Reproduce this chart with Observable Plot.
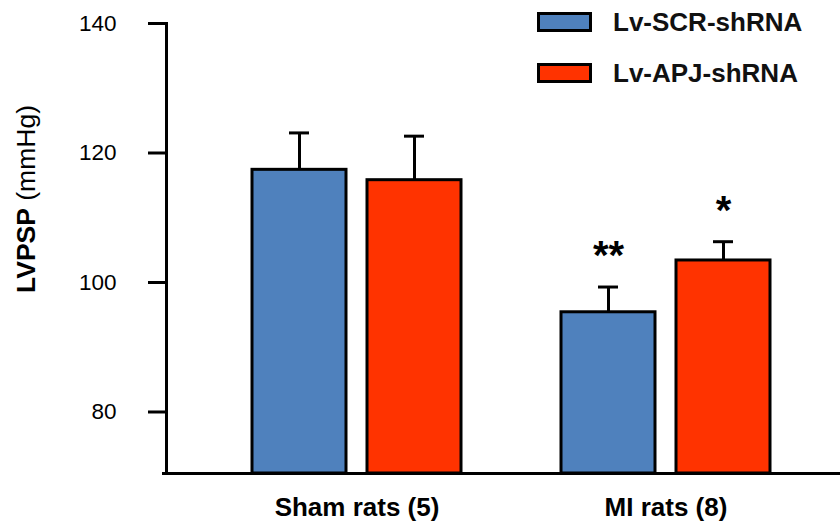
<!DOCTYPE html>
<html>
<head>
<meta charset="utf-8">
<script src="https://cdn.jsdelivr.net/npm/d3@7"></script>
<script src="https://cdn.jsdelivr.net/npm/@observablehq/plot@0.6"></script>
<style>
  html, body { margin: 0; padding: 0; background: #fff; }
  #wrap { position: relative; width: 840px; height: 521px; font-family: "Liberation Sans", Arial, sans-serif; }
  #ylab { position: absolute; left: 26px; top: 199px; transform: translate(-50%, -50%) rotate(-90deg); white-space: nowrap; font-size: 26.5px; color: #000; }
  #ylab b { font-weight: bold; }
  #legend { position: absolute; left: 537px; top: 8px; }
  .item { display: flex; align-items: center; height: 28px; margin-bottom: 23px; }
  .sw { width: 49px; height: 14px; border: 3px solid #000; margin-right: 21px; }
  .lt { font-size: 26px; font-weight: bold; color: #111; }
</style>
</head>
<body>
<div id="wrap">
  <div id="chart"></div>
  <div id="ylab"><b>LVPSP</b> (mmHg)</div>
  <div id="legend"></div>
</div>
<script>
const groups = ["Sham rats (5)", "MI rats (8)"];
const series = ["Lv-SCR-shRNA", "Lv-APJ-shRNA"];
const colors = ["#4f81bd", "#ff3300"];
const means = [[117.4, 115.8], [95.4, 103.4]];
const errors = [[5.7, 6.8], [3.9, 2.9]];
const sigMarks = [["", ""], ["**", "*"]];
const yTicks = [80, 100, 120, 140];
const yDomain = [70.5, 140];

const data = [];
groups.forEach((g, i) => series.forEach((s, j) => {
  data.push({group: g, series: s, value: means[i][j], top: means[i][j] + errors[i][j], sig: sigMarks[i][j]});
}));

// each group band holds two bars (94px) separated by a 21px gap
const bandW = 209, barW = 94, capW = 20;
const seriesMarks = series.flatMap((s, j) => {
  const rows = data.filter(d => d.series === s);
  const shift = (j === 0 ? -1 : 1) * (barW + (bandW - 2 * barW)) / 2;
  const barInset = j === 0 ? {insetRight: bandW - barW} : {insetLeft: bandW - barW};
  const capOuter = (barW - capW) / 2, capInner = bandW - barW + capOuter;
  const capInset = j === 0 ? {insetLeft: capOuter, insetRight: capInner} : {insetLeft: capInner, insetRight: capOuter};
  return [
    Plot.ruleX(rows, {x: "group", y1: "value", y2: "top", dx: shift, stroke: "#000", strokeWidth: 3}),
    Plot.barY(rows, {x: "group", y1: yDomain[0], y2: "value", fill: "series", stroke: "#000", strokeWidth: 3, ...barInset}),
    Plot.tickY(rows, {x: "group", y: "top", stroke: "#000", strokeWidth: 3, ...capInset}),
    Plot.text(rows, {x: "group", y: "top", text: "sig", dx: shift, dy: -31, fontSize: 40, fontWeight: "bold", fill: "#000"})
  ];
});

const plot = Plot.plot({
  width: 840,
  height: 521,
  marginLeft: 166,
  marginRight: 0,
  marginTop: 23,
  marginBottom: 48,
  style: {fontFamily: "'Liberation Sans', Arial, sans-serif", background: "#fff", color: "#000"},
  x: {domain: groups, paddingInner: 0.324, paddingOuter: 0.2525, align: 0.551, label: null},
  y: {domain: yDomain, label: null},
  color: {domain: series, range: colors},
  marks: [
    ...seriesMarks,
    Plot.axisY({ticks: yTicks, tickSize: 18, tickPadding: 32, fontSize: 22.5, strokeWidth: 3, label: null}),
    Plot.axisX({anchor: "bottom", tickSize: 0, tickPadding: 24, fontSize: 26, fontWeight: "bold", label: null}),
    Plot.frame({anchor: "left", stroke: "#000", strokeWidth: 3}),
    Plot.ruleY([yDomain[0]], {stroke: "#000", strokeWidth: 3, insetLeft: -4})
  ]
});
document.getElementById("chart").appendChild(plot);

const legend = document.getElementById("legend");
series.forEach((s, j) => {
  const item = document.createElement("div");
  item.className = "item";
  const sw = document.createElement("div");
  sw.className = "sw";
  sw.style.background = colors[j];
  const t = document.createElement("span");
  t.className = "lt";
  t.textContent = s;
  item.appendChild(sw);
  item.appendChild(t);
  legend.appendChild(item);
});
</script>
</body>
</html>
